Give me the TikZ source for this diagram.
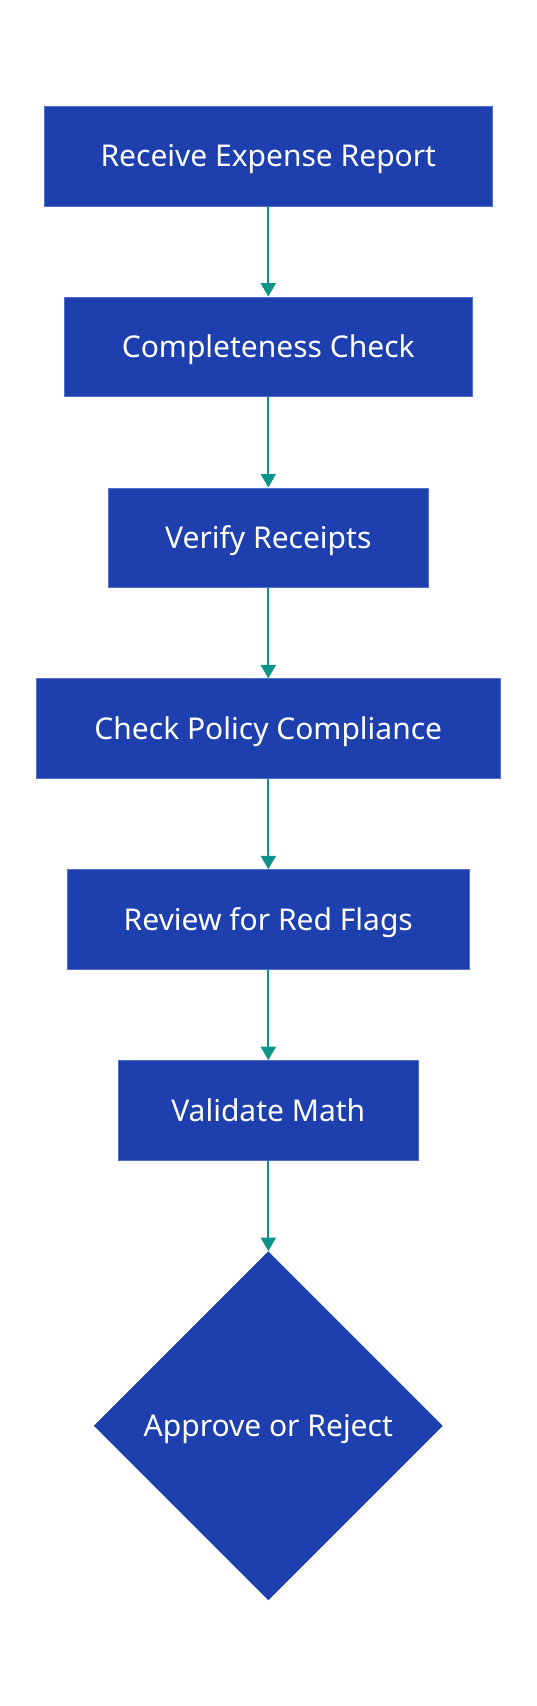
\documentclass[tikz,border=0pt]{standalone}
\usepackage{fontspec}
\setmainfont{Noto Sans}
\usetikzlibrary{positioning,arrows.meta,shapes.geometric}
\usepackage{xcolor}
\definecolor{boxblue}{HTML}{1E40AF}
\definecolor{boxedge}{HTML}{5570CC}
\definecolor{flowteal}{HTML}{0D9488}

\begin{document}
\begin{tikzpicture}[x=1pt, y=-1pt,
  stepbox/.style={rectangle, fill=boxblue, draw=boxedge, line width=0.8pt,
    text=white, font=\fontsize{30}{36}\selectfont, text height=21.4pt, text depth=0pt,
    minimum height=99.8pt, inner sep=0pt},
  decision/.style={diamond, fill=boxblue, text=white, font=\fontsize{30}{36}\selectfont,
    text height=21.4pt, text depth=0pt,
    minimum width=349pt, minimum height=349pt, aspect=1, inner sep=0pt},
  flow/.style={flowteal, line width=2pt, -{Triangle[length=13.5pt, width=15pt]}},
  node distance=90.3pt]
\useasboundingbox (0,0) rectangle (536,1706);
% process steps
\node[stepbox, minimum width=448.5pt] (receive) at (268.3,156) {Receive Expense Report};
\node[stepbox, minimum width=407.2pt, below=of receive] (complete) {Completeness Check};
\node[stepbox, minimum width=320.5pt, below=of complete] (receipts) {Verify Receipts};
\node[stepbox, minimum width=464.5pt, below=of receipts] (policy) {Check Policy Compliance};
\node[stepbox, minimum width=401.5pt, below=of policy] (flags) {Review for Red Flags};
\node[stepbox, minimum width=299.5pt, below=of flags] (math) {Validate Math};
% final decision
\node[decision, below=of math] (decide) {Approve or Reject};
% connectors
\draw[flow] (receive) -- (complete);
\draw[flow] (complete) -- (receipts);
\draw[flow] (receipts) -- (policy);
\draw[flow] (policy) -- (flags);
\draw[flow] (flags) -- (math);
\draw[flow] (math) -- (decide);
\end{tikzpicture}
\end{document}
